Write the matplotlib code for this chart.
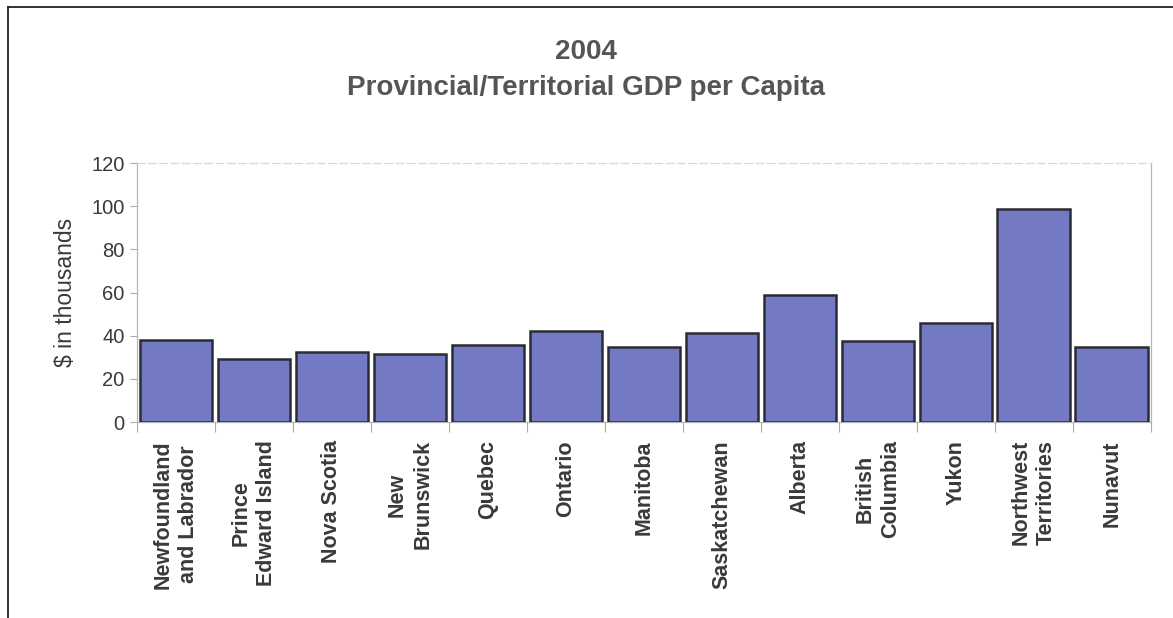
"""
Bar chart of provincial/territorial GDP per capita, 2004.
"""

import numpy as np
import matplotlib
matplotlib.use("Agg")
import matplotlib.pyplot as plt
import matplotlib.lines as mlines

plt.rcParams['font.family'] = ['Liberation Sans', 'DejaVu Sans']

#--------------------------------------------------------------
# data ($ thousands per person)
#--------------------------------------------------------------
regions = ["Newfoundland\nand Labrador", "Prince\nEdward Island", "Nova Scotia",
           "New\nBrunswick", "Quebec", "Ontario", "Manitoba", "Saskatchewan",
           "Alberta", "British\nColumbia", "Yukon", "Northwest\nTerritories",
           "Nunavut"]
gdp_per_capita = [37.9, 29.4, 32.4, 31.5, 35.8, 42.0, 34.9, 41.1,
                  58.9, 37.8, 46.1, 98.6, 34.9]
y_ticks = [0, 20, 40, 60, 80, 100, 120]

text_col = "#3a3a3a"
bar_col = "#7479c4"

fig = plt.figure(figsize=(11.73, 6.18), dpi=100)
ax = fig.add_axes([0.1168, 0.317, 0.8642, 0.419])

x = np.arange(len(regions))
ax.bar(x, gdp_per_capita, width=0.93, color=bar_col,
       edgecolor="#2b2b33", linewidth=1.8, zorder=3)

ax.set_xlim(-0.5, len(regions) - 0.5)
ax.set_ylim(0, 120)
ax.set_yticks(y_ticks)
ax.set_yticklabels([str(v) for v in y_ticks], fontsize=14.5, color=text_col)
ax.tick_params(axis='y', length=5, width=0.8, color="#aaaaaa", pad=4)

# tick marks sit between the categories, labels at the centres
ax.set_xticks(x)
ax.set_xticklabels(regions, rotation=90, fontsize=15.5, fontweight='bold',
                   color=text_col, ha='center', va='top',
                   multialignment='center', linespacing=1.3)
ax.tick_params(axis='x', which='major', length=0, pad=13)
ax.set_xticks(np.arange(len(regions) + 1) - 0.5, minor=True)
ax.tick_params(axis='x', which='minor', length=7, width=0.8, color="#aaaaaa")

ax.set_ylabel("$ in thousands", fontsize=16.5, color=text_col, labelpad=10)

for side in ['left', 'right', 'bottom']:
    ax.spines[side].set_color("#b5b5b5")
    ax.spines[side].set_linewidth(0.9)
ax.spines['top'].set_color("#d8d8d8")
ax.spines['top'].set_linestyle((0, (6, 3)))
ax.spines['top'].set_linewidth(0.9)

fig.text(0.4995, 0.916, "2004", ha='center', va='center', fontsize=20,
         fontweight='bold', color="#555555")
fig.text(0.4995, 0.858, "Provincial/Territorial GDP per Capita", ha='center',
         va='center', fontsize=20, fontweight='bold', color="#555555")

# outer chart frame (top and left edges)
fig.add_artist(mlines.Line2D([0.007, 1.0], [0.989, 0.989], color="#222222",
                             linewidth=1.3, transform=fig.transFigure))
fig.add_artist(mlines.Line2D([0.007, 0.007], [0.0, 0.989], color="#222222",
                             linewidth=1.3, transform=fig.transFigure))

fig.savefig("out.png", dpi=100, facecolor="white")
